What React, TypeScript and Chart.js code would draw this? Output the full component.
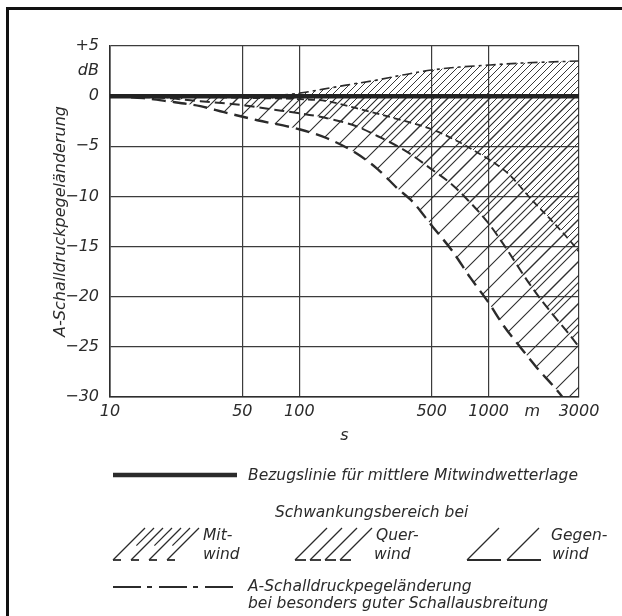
import React, { useEffect, useRef } from 'react';
import { Chart, registerables } from 'chart.js';

Chart.register(...registerables);

const FONT = "'DejaVu Sans', sans-serif";
const INK = '#2b2b2b';

// axis ticks
const xTickValues = [10, 50, 100, 500, 1000, 1700, 3000];
const xTickLabels = ['10', '50', '100', '500', '1000', 'm', '3000'];
const yTickValues = [-30, -25, -20, -15, -10, -5, 0, 2.5, 5];
const yTickLabels = ['−30', '−25', '−20', '−15', '−10', '−5', '0', 'dB', '+5'];

// reference line (Bezugslinie)
const refX = [10, 3000];
const refY = [0, 0];
// dash-dot: especially good propagation
const goodX = [10, 60, 80, 100, 134, 177, 256, 350, 500, 700, 1000, 1500, 2000, 3000];
const goodY = [0, 0, 0.1, 0.3, 0.7, 1.1, 1.6, 2.1, 2.6, 2.9, 3.1, 3.3, 3.4, 3.5];
// Mitwind lower boundary
const mitX = [10, 15, 30, 60, 100, 140, 200, 290, 380, 500, 685, 850, 1040, 1280, 1700, 2100, 2600, 3000];
const mitY = [0, -0.05, -0.1, -0.2, -0.3, -0.5, -1.2, -2.0, -2.6, -3.3, -4.5, -5.5, -6.5, -7.8, -10.4, -12.2, -14.1, -15.5];
// Querwind lower boundary
const querX = [10, 15, 20, 30, 50, 70, 100, 140, 200, 260, 360, 500, 630, 780, 1000, 1230, 1640, 2100, 2600, 3000];
const querY = [0, -0.1, -0.2, -0.5, -0.9, -1.3, -1.7, -2.2, -3.0, -4.0, -5.4, -7.3, -8.7, -10.4, -12.7, -15.1, -18.7, -21.4, -23.5, -25];
// Gegenwind lower boundary
const gegenX = [10, 15, 20, 30, 40, 60, 100, 140, 200, 260, 330, 400, 500, 640, 800, 1000, 1200, 1450, 1800, 2240, 2450, 3000];
const gegenY = [0, -0.2, -0.5, -1.0, -1.6, -2.4, -3.3, -4.2, -5.7, -7.3, -9.2, -10.6, -12.9, -15.4, -18.1, -20.6, -22.9, -24.9, -27.1, -29.1, -30, -32.5];

const pts = (xs: number[], ys: number[]) => xs.map((x, i) => ({ x, y: ys[i] }));

function makeHatch(ctx: CanvasRenderingContext2D, size: number, color: string, lw: number) {
  const c = document.createElement('canvas');
  c.width = size;
  c.height = size;
  const g = c.getContext('2d')!;
  g.strokeStyle = color;
  g.lineWidth = lw;
  g.beginPath();
  g.moveTo(-2, size + 2);
  g.lineTo(size + 2, -2);
  g.moveTo(-2, 2);
  g.lineTo(2, -2);
  g.moveTo(size - 2, size + 2);
  g.lineTo(size + 2, size - 2);
  g.stroke();
  return ctx.createPattern(c, 'repeat');
}

function drawSwatch(
  ctx: CanvasRenderingContext2D,
  x0: number,
  yb: number,
  h: number,
  spacing: number,
  n: number,
  footLen: number,
  shortOdd: boolean
) {
  for (let i = 0; i < n; i++) {
    const bx = x0 + i * spacing;
    const isShort = shortOdd && i % 2 === 1;
    const f = isShort ? 0.45 : 0;
    ctx.lineWidth = 1.2;
    ctx.beginPath();
    ctx.moveTo(bx + h * f, yb - h * f);
    ctx.lineTo(bx + h, yb - h);
    ctx.stroke();
    if (!isShort) {
      ctx.lineWidth = 1.8;
      ctx.beginPath();
      ctx.moveTo(bx, yb);
      ctx.lineTo(bx + footLen, yb);
      ctx.stroke();
    }
  }
}

const legendPlugin = {
  id: 'customLegend',
  afterDraw(chart: any) {
    const ctx: CanvasRenderingContext2D = chart.ctx;
    ctx.save();
    // page frame (left and top)
    ctx.fillStyle = '#111';
    ctx.fillRect(6, 7, 3, 616 - 7);
    ctx.fillRect(6, 7, 622 - 6, 3);

    ctx.strokeStyle = INK;
    ctx.fillStyle = INK;
    ctx.font = `italic 15.5px ${FONT}`;
    ctx.textBaseline = 'middle';
    ctx.textAlign = 'left';

    // Bezugslinie
    ctx.lineWidth = 4.5;
    ctx.beginPath();
    ctx.moveTo(113, 475);
    ctx.lineTo(237, 475);
    ctx.stroke();
    ctx.fillText('Bezugslinie für mittlere Mitwindwetterlage', 248, 476);

    ctx.fillText('Schwankungsbereich bei', 275, 513);

    // swatches
    ctx.lineCap = 'butt';
    drawSwatch(ctx, 113, 560, 32, 9, 7, 8, true);
    drawSwatch(ctx, 295, 560, 32, 15, 4, 11, false);
    drawSwatch(ctx, 467, 560, 32, 40, 2, 34, false);
    ctx.fillText('Mit-', 203, 536);
    ctx.fillText('wind', 203, 555);
    ctx.fillText('Quer-', 376, 536);
    ctx.fillText('wind', 374, 555);
    ctx.fillText('Gegen-', 551, 536);
    ctx.fillText('wind', 552, 555);

    // dash-dot
    ctx.lineWidth = 1.8;
    ctx.setLineDash([28, 6, 5, 7]);
    ctx.beginPath();
    ctx.moveTo(113, 587);
    ctx.lineTo(239, 587);
    ctx.stroke();
    ctx.setLineDash([]);
    ctx.fillText('A-Schalldruckpegeländerung', 248, 587);
    ctx.fillText('bei besonders guter Schallausbreitung', 248, 604);
    ctx.restore();
  },
};

export default function App() {
  const canvasRef = useRef<HTMLCanvasElement | null>(null);

  useEffect(() => {
    const canvas = canvasRef.current!;
    const ctx = canvas.getContext('2d')!;
    const hatchColor = '#2e2e2e';
    const patMit = makeHatch(ctx, 7, hatchColor, 0.95);
    const patQuer = makeHatch(ctx, 14, hatchColor, 1.1);
    const patGegen = makeHatch(ctx, 21, hatchColor, 1.1);

    const tickFont = { family: FONT, style: 'italic' as const, size: 16 };

    const chart = new Chart(ctx, {
      type: 'line',
      data: {
        datasets: [
          {
            label: 'Bezugslinie',
            data: pts(refX, refY),
            borderColor: '#222',
            borderWidth: 4.5,
            pointRadius: 0,
            fill: false,
          },
          {
            label: 'gute Schallausbreitung',
            data: pts(goodX, goodY),
            borderColor: INK,
            borderWidth: 1.6,
            borderDash: [10, 4, 3, 4],
            pointRadius: 0,
            cubicInterpolationMode: 'monotone',
            fill: false,
          },
          {
            label: 'Mitwind',
            data: pts(mitX, mitY),
            borderColor: INK,
            borderWidth: 1.8,
            borderDash: [7, 4],
            pointRadius: 0,
            cubicInterpolationMode: 'monotone',
            backgroundColor: patMit as any,
            fill: 1,
          },
          {
            label: 'Querwind',
            data: pts(querX, querY),
            borderColor: INK,
            borderWidth: 2,
            borderDash: [10, 5],
            pointRadius: 0,
            cubicInterpolationMode: 'monotone',
            backgroundColor: patQuer as any,
            fill: 0,
          },
          {
            label: 'Gegenwind',
            data: pts(gegenX, gegenY),
            borderColor: INK,
            borderWidth: 2.4,
            borderDash: [14, 7],
            pointRadius: 0,
            cubicInterpolationMode: 'monotone',
            backgroundColor: patGegen as any,
            fill: 0,
          },
        ],
      },
      options: {
        responsive: false,
        animation: false,
        events: [],
        layout: { padding: { left: 0, right: 43, top: 46, bottom: 159 } },
        plugins: {
          legend: { display: false },
          tooltip: { enabled: false },
          title: { display: false },
        },
        scales: {
          x: {
            type: 'logarithmic',
            min: 10,
            max: 3000,
            afterFit(scale: any) {
              scale.height = 60;
            },
            afterBuildTicks(scale: any) {
              scale.ticks = xTickValues.map((v) => ({ value: v }));
            },
            ticks: {
              autoSkip: false,
              maxRotation: 0,
              padding: 5,
              color: INK,
              font: tickFont,
              callback: (value: any) => {
                const i = xTickValues.indexOf(Number(value));
                return i >= 0 ? xTickLabels[i] : '';
              },
            },
            grid: {
              drawTicks: false,
              lineWidth: 1.2,
              color: (c: any) => (c.tick && c.tick.value === 1700 ? 'rgba(0,0,0,0)' : '#3c3c3c'),
            },
            border: { display: true, color: '#2e2e2e', width: 1.6 },
            title: {
              display: true,
              text: 's',
              color: INK,
              font: tickFont,
              padding: { top: 0, bottom: 12 },
            },
          },
          y: {
            type: 'linear',
            min: -30,
            max: 5,
            afterFit(scale: any) {
              scale.width = 110;
            },
            afterBuildTicks(scale: any) {
              scale.ticks = yTickValues.map((v) => ({ value: v }));
            },
            ticks: {
              autoSkip: false,
              padding: 11,
              color: INK,
              font: tickFont,
              callback: (value: any) => {
                const i = yTickValues.indexOf(Number(value));
                return i >= 0 ? yTickLabels[i] : '';
              },
            },
            grid: {
              drawTicks: false,
              lineWidth: 1.2,
              color: (c: any) => (c.tick && c.tick.value === 2.5 ? 'rgba(0,0,0,0)' : '#3c3c3c'),
            },
            border: { display: true, color: '#2e2e2e', width: 1.6 },
            title: {
              display: true,
              text: 'A-Schalldruckpegeländerung',
              color: INK,
              font: tickFont,
              padding: { top: 51, bottom: 0 },
            },
          },
        },
      },
      plugins: [legendPlugin],
    });

    return () => chart.destroy();
  }, []);

  return (
    <div style={{ position: 'absolute', left: 0, top: 0, width: 622, height: 616, background: '#fff' }}>
      <canvas ref={canvasRef} width={622} height={616} style={{ display: 'block' }} />
    </div>
  );
}
